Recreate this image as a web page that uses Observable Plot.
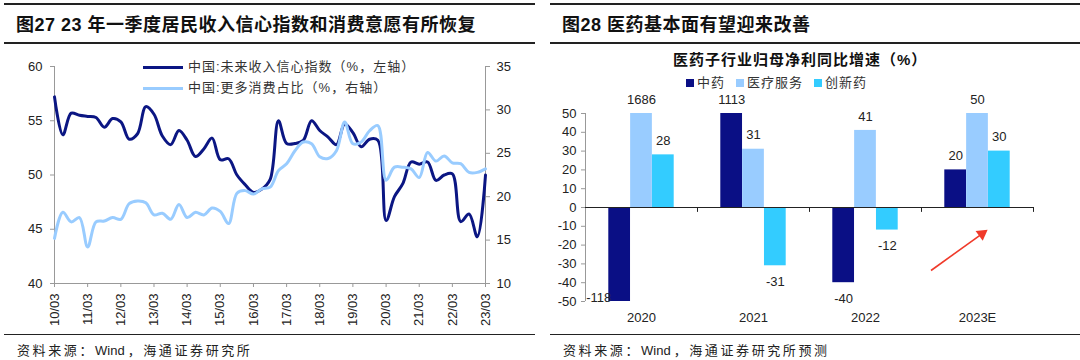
<!DOCTYPE html>
<html><head><meta charset="utf-8">
<script src="https://cdn.jsdelivr.net/npm/d3@7"></script>
<script src="https://cdn.jsdelivr.net/npm/@observablehq/plot@0.6"></script>
<style>
body{margin:0;background:#fff;font-family:"Liberation Sans","Noto Sans CJK SC",sans-serif;}
#page{position:relative;width:1080px;height:360px;overflow:hidden;background:#fff;}
.rule{position:absolute;height:0;border-top:2px solid #222;}
.hdr{position:absolute;font-weight:bold;font-size:18px;letter-spacing:0.5px;color:#111;white-space:nowrap;line-height:20px;}
.src{position:absolute;font-size:13px;letter-spacing:2.6px;color:#222;white-space:nowrap;line-height:16px;}
.src b{font-weight:normal;letter-spacing:0;margin-right:3px;}
.chart{position:absolute;}
.lg{position:absolute;font-size:13px;letter-spacing:1px;color:#333;white-space:nowrap;line-height:16px;display:flex;align-items:center;}
.lg .sw{display:inline-block;width:40px;height:3px;margin-right:5px;}
.rtitle{position:absolute;font-weight:bold;font-size:15px;letter-spacing:1px;color:#111;white-space:nowrap;line-height:18px;}
.rleg{position:absolute;font-size:13px;letter-spacing:1px;color:#333;white-space:nowrap;line-height:16px;display:flex;align-items:center;gap:11px;}
.rleg span.it{display:flex;align-items:center;}
.rleg i{display:inline-block;width:8px;height:8px;margin-right:3px;}
</style></head>
<body><div id="page">
  <div class="rule" style="left:4px;top:3px;width:531px;"></div>
  <div class="rule" style="left:4px;top:42px;width:531px;"></div>
  <div class="rule" style="left:550px;top:3px;width:530px;"></div>
  <div class="rule" style="left:550px;top:42px;width:530px;"></div>
  <div class="hdr" style="left:16px;top:15px;">图27 23 年一季度居民收入信心指数和消费意愿有所恢复</div>
  <div class="hdr" style="left:562px;top:15px;">图28 医药基本面有望迎来改善</div>
  <div class="chart" id="left" style="left:0;top:55px;"></div>
  <div class="chart" id="right" style="left:540px;top:90px;"></div>
  <div class="lg" style="left:143px;top:59px;"><span class="sw" style="background:#0b1683"></span>中国:未来收入信心指数（%，左轴）</div>
  <div class="lg" style="left:143px;top:80px;"><span class="sw" style="background:#99ccff"></span>中国:更多消费占比（%，右轴）</div>
  <div class="rtitle" style="left:673px;top:51px;">医药子行业归母净利同比增速（%）</div>
  <div class="rleg" id="rleg" style="left:686px;top:75px;"></div>
  <div class="rule" style="left:4px;top:334px;width:531px;border-top-width:1.5px;"></div>
  <div class="rule" style="left:550px;top:334px;width:530px;border-top-width:1.5px;"></div>
  <div class="src" style="left:17px;top:343px;">资料来源：<b>Wind</b>，海通证券研究所</div>
  <div class="src" style="left:563px;top:343px;">资料来源：<b>Wind</b>，海通证券研究所预测</div>
</div>
<script>
// ---------- Left chart data (quarterly, 2010Q1 .. 2023Q1) ----------
const quarterLabels = [];
for (let y = 2010; y <= 2023; y++) for (const m of ["03","06","09","12"]) if (!(y === 2023 && m !== "03")) quarterLabels.push(`${y}-${m}`);
const incomeConfidence = [57.2, 53.7, 55.7, 55.5, 55.4, 55.3, 54.4, 55.2, 54.9, 53.3,
  53.8, 56.3, 55.6, 53.6, 52.8, 54.1, 53.2, 51.7, 52.4, 53.4,
  51.4, 51.5, 50.0, 49.1, 48.4, 48.7, 49.6, 55.0, 52.9, 52.9,
  53.2, 55.0, 54.1, 53.5, 52.8, 54.7, 53.9, 52.6, 53.3, 53.2,
  45.8, 48.0, 49.2, 51.2, 51.0, 51.2, 49.5, 50.0, 50.1, 45.7,
  46.4, 44.3, 50.0];
const consumeMore = [15.2, 18.2, 17.1, 17.6, 14.2, 17.1, 17.2, 17.6, 17.4, 19.2,
  19.5, 19.3, 17.9, 18.1, 17.4, 19.1, 17.6, 18.2, 17.9, 18.7,
  18.3, 16.9, 20.4, 20.7, 20.3, 20.9, 21.1, 23.0, 23.8, 25.3,
  26.3, 26.1, 24.6, 24.4, 25.3, 28.6, 26.1, 26.3, 27.6, 28.2,
  21.9, 23.4, 23.4, 23.2, 22.2, 25.1, 24.1, 24.7, 23.9, 23.8,
  22.8, 22.8, 23.2];
const leftTicks = [40, 45, 50, 55, 60];
const rightTicks = [10, 15, 20, 25, 30, 35];
const xTickYears = d3.range(2010, 2024);

// ---------- Right chart data ----------
const years = ["2020", "2021", "2022", "2023E"];
const seriesNames = ["中药", "医疗服务", "创新药"];
const tcm = [-118, 1113, -40, 20];
const medService = [1686, 31, 41, 50];
const innovDrug = [28, -31, -12, 30];
const seriesColors = ["#0a0f85", "#99ccff", "#33ccff"];
const yTicksRight = [-50, -40, -30, -20, -10, 0, 10, 20, 30, 40, 50];
const trendArrow = [{x1: 2.585, y1: -33.5, x2: 3.04, y2: -14}]; // annotation (red arrow)

const FONT = '"Liberation Sans","Noto Sans CJK SC",sans-serif';
const parse = d3.utcParse("%Y-%m");
const dates = quarterLabels.map(parse);
const toLeft = v => 40 + (v - 10) * 20 / 25;
const fromLeft = v => Math.round(10 + (v - 40) * 25 / 20);
const lrows = dates.map((d, i) => ({date: d, income: incomeConfidence[i], consume: consumeMore[i]}));
const tickDates = xTickYears.map(y => parse(`${y}-03`));

const left = Plot.plot({
  width: 540, height: 280,
  marginLeft: 54, marginRight: 55, marginTop: 11, marginBottom: 52,
  style: {fontFamily: FONT, fontSize: "13px", color: "#222", background: "transparent"},
  x: {type: "utc", domain: [dates[0], dates[dates.length - 1]]},
  y: {domain: [40, 60]},
  marks: [
    Plot.ruleX([dates[0]], {stroke: "#999"}),
    Plot.ruleX([dates[dates.length - 1]], {stroke: "#999"}),
    Plot.ruleY([40], {stroke: "#999"}),
    Plot.axisY(leftTicks, {anchor: "left", tickSize: 4, tickPadding: 8, stroke: "#999", fill: "#222", label: null}),
    Plot.axisY(rightTicks.map(toLeft), {anchor: "right", tickSize: 4, tickPadding: 7, stroke: "#999", fill: "#222", tickFormat: fromLeft, label: null}),
    Plot.axisX(tickDates, {tickFormat: d3.utcFormat("%y/%m"), tickRotate: -90, tickSize: 4, tickPadding: 6, stroke: "#999", fill: "#222", label: null}),
    Plot.line(lrows, {x: "date", y: "income", stroke: "#0b1683", strokeWidth: 3, curve: "catmull-rom"}),
    Plot.line(lrows, {x: "date", y: d => toLeft(d.consume), stroke: "#99ccff", strokeWidth: 3, curve: "catmull-rom"})
  ]
});
document.getElementById("left").appendChild(left);

// ---------- Right chart ----------
const rows = [];
years.forEach((yr, yi) => {
  [tcm, medService, innovDrug].forEach((arr, si) => {
    const v = arr[yi];
    rows.push({yi, year: yr, si, series: seriesNames[si], value: v, shown: Math.max(-50, Math.min(50, v))});
  });
});
const barHalf = 0.097, barStep = 0.195;
const cx = d => d.yi + (d.si - 1) * barStep;

const right = Plot.plot({
  width: 540, height: 238,
  marginLeft: 45, marginRight: 47, marginTop: 23, marginBottom: 27,
  style: {fontFamily: FONT, fontSize: "13px", color: "#222", background: "transparent"},
  x: {type: "linear", domain: [-0.5, years.length - 0.5]},
  y: {domain: [-50, 50]},
  color: {domain: seriesNames, range: seriesColors},
  marks: [
    Plot.ruleX([-0.5], {y1: -50, y2: 50, stroke: "#999"}),
    Plot.axisY(yTicksRight, {anchor: "left", tickSize: 4, tickPadding: 5, stroke: "#999", fill: "#222", tickFormat: d => String(d), label: null}),
    Plot.rect(rows, {x1: d => cx(d) - barHalf, x2: d => cx(d) + barHalf, y1: 0, y2: "shown", fill: "series"}),
    Plot.ruleY([0], {stroke: "#222", strokeWidth: 1.2}),
    Plot.ruleX(years.map((_, i) => i + 0.5), {y1: 0, y2: -2.6, stroke: "#222"}),
    Plot.axisX(years.map((_, i) => i), {tickSize: 0, tickPadding: 11, tickFormat: i => years[i], fill: "#222", label: null}),
    Plot.text(rows.filter(d => d.value >= 0), {x: cx, y: "shown", text: d => String(d.value), dy: -14, fill: "#222", fontSize: 13}),
    Plot.text(rows.filter(d => d.value < 0 && d.value >= -50), {x: cx, y: "shown", text: d => String(d.value), dy: 16, fill: "#222", fontSize: 13}),
    Plot.text(rows.filter(d => d.value < -50), {x: cx, y: "shown", text: d => String(d.value), dx: -21, dy: -4, fill: "#222", fontSize: 13}),
    Plot.link(trendArrow, {x1: "x1", y1: "y1", x2: "x2", y2: "y2", stroke: "#f03a2a", strokeWidth: 1.6}),
    Plot.dot(trendArrow, {x: "x2", y: "y2", symbol: "triangle", r: 4.5, fill: "#f03a2a", rotate: 54})
  ]
});
document.getElementById("right").appendChild(right);

// legend for right chart
const rleg = document.getElementById("rleg");
seriesNames.forEach((n, i) => {
  const s = document.createElement("span");
  s.className = "it";
  s.innerHTML = `<i style="background:${seriesColors[i]}"></i>${n}`;
  rleg.appendChild(s);
});
</script>
</body></html>
